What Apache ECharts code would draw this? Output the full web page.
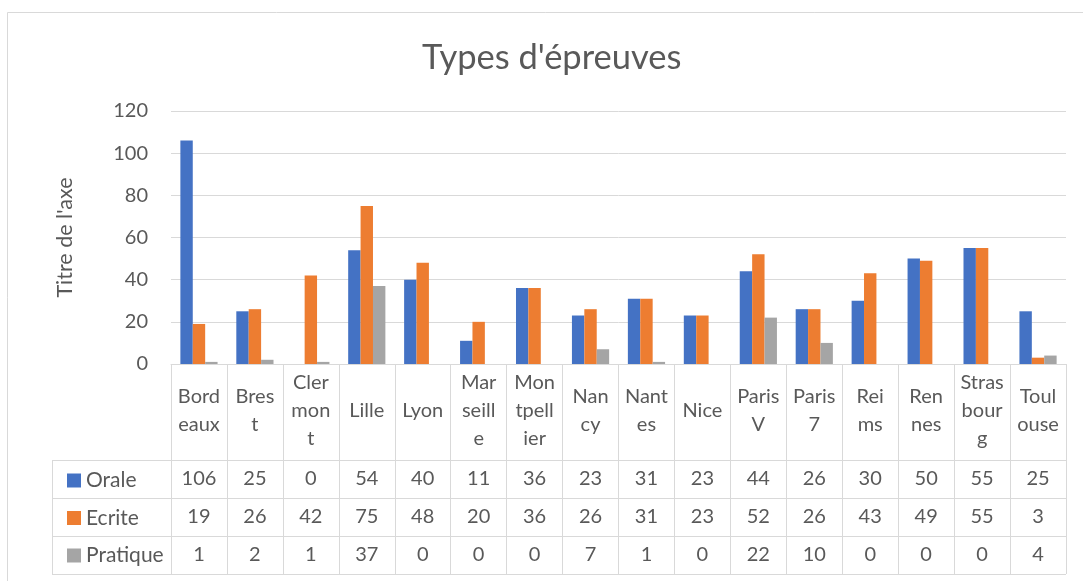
<!DOCTYPE html>
<html>
<head>
<meta charset="utf-8">
<script src="https://cdn.jsdelivr.net/npm/echarts@6/dist/echarts.min.js"></script>
<style>
html,body{margin:0;padding:0;background:#fff;}
#chart{width:1083px;height:581px;}
</style>
</head>
<body>
<div id="chart"></div>
<script>
var categories = ['Bordeaux','Brest','Clermont','Lille','Lyon','Marseille','Montpellier','Nancy','Nantes','Nice','Paris V','Paris 7','Reims','Rennes','Strasbourg','Toulouse'];
var categoryLabels = ['Bord\neaux','Bres\nt','Cler\nmon\nt','Lille','Lyon','Mar\nseill\ne','Mon\ntpell\nier','Nan\ncy','Nant\nes','Nice','Paris\nV','Paris\n7','Rei\nms','Ren\nnes','Stras\nbour\ng','Toul\nouse'];
var orale = [106,25,0,54,40,11,36,23,31,23,44,26,30,50,55,25];
var ecrite = [19,26,42,75,48,20,36,26,31,23,52,26,43,49,55,3];
var pratique = [1,2,1,37,0,0,0,7,1,0,22,10,0,0,0,4];
var seriesNames = ['Orale','Ecrite','Pratique'];
var yTicks = [0,20,40,60,80,100,120];

var FONT = 'Lato';
var TXT = '#595959';
var LINE = '#d9d9d9';
var colors = ['#4472C4','#ED7D31','#A5A5A5'];

var gridLeft = 171, gridRight = 17, gridTop = 111, gridBottom = 217;
var axisY = 581 - gridBottom;          // 364
var rowBounds = [460, 498, 536, 574];
var rowCenters = [479, 517, 555];
var headerCenter = 411;
var tableBottom = rowBounds[3];
var legendLeft = 52;

var chart = echarts.init(document.getElementById('chart'));

function rowAxis(values, center){
  return {
    type: 'category', data: values.map(String), position: 'bottom', gridIndex: 0,
    axisLine: {show: false}, axisTick: {show: false},
    axisLabel: {fontFamily: FONT, fontSize: 20, color: TXT, margin: center - axisY, verticalAlign: 'middle', interval: 0}
  };
}

var option = {
  animation: false,
  backgroundColor: '#fff',
  color: colors,
  title: {
    text: "Types d'épreuves", left: 417, top: 35,
    textStyle: {fontFamily: FONT, fontSize: 34.5, fontWeight: 'normal', color: TXT}
  },
  legend: {
    orient: 'vertical', left: 62, top: 465, itemGap: 16.5,
    icon: 'rect', itemWidth: 14, itemHeight: 14,
    data: seriesNames,
    textStyle: {fontFamily: FONT, fontSize: 21, color: TXT}
  },
  grid: {left: gridLeft, right: gridRight, top: gridTop, bottom: gridBottom, containLabel: false},
  xAxis: [
    {
      type: 'category', data: categories, position: 'bottom',
      axisLine: {show: true, lineStyle: {color: LINE, width: 1}},
      axisTick: {show: true, length: tableBottom - axisY, lineStyle: {color: LINE, width: 1}},
      axisLabel: {
        interval: 0, fontFamily: FONT, fontSize: 20, color: TXT, lineHeight: 28,
        margin: headerCenter - axisY, verticalAlign: 'middle',
        formatter: function(v, i){ return categoryLabels[i]; }
      }
    },
    rowAxis(orale, rowCenters[0]),
    rowAxis(ecrite, rowCenters[1]),
    rowAxis(pratique, rowCenters[2])
  ],
  yAxis: {
    type: 'value', min: yTicks[0], max: yTicks[yTicks.length-1], interval: 20,
    name: "Titre de l'axe", nameLocation: 'middle', nameRotate: 90, nameGap: 95,
    nameTextStyle: {fontFamily: FONT, fontSize: 21.5, color: TXT},
    axisLine: {show: false}, axisTick: {show: false},
    axisLabel: {fontFamily: FONT, fontSize: 20, color: TXT, margin: 23},
    splitLine: {lineStyle: {color: LINE, width: 1}}
  },
  series: [
    {name: seriesNames[0], type: 'bar', data: orale, barWidth: 12.4, barGap: '0%'},
    {name: seriesNames[1], type: 'bar', data: ecrite, barWidth: 12.4, barGap: '0%'},
    {name: seriesNames[2], type: 'bar', data: pratique, barWidth: 12.4, barGap: '0%'}
  ]
};

chart.setOption(option);

// table borders (layout lines) derived from grid geometry
var gRect = chart.getModel().getComponent('grid').coordinateSystem.getRect();
var g = [];
g.push({type:'rect', shape:{x:7.5, y:12.5, width:1100, height:600}, style:{fill:'none', stroke:LINE, lineWidth:1}, silent:true, z:-1});
rowBounds.forEach(function(y){
  g.push({type:'line', shape:{x1:legendLeft, y1:y+0.5, x2:gRect.x+gRect.width, y2:y+0.5}, style:{stroke:LINE, lineWidth:1}, silent:true});
});
g.push({type:'line', shape:{x1:legendLeft+0.5, y1:rowBounds[0], x2:legendLeft+0.5, y2:tableBottom}, style:{stroke:LINE, lineWidth:1}, silent:true});
chart.setOption({graphic: g});
</script>
</body>
</html>
